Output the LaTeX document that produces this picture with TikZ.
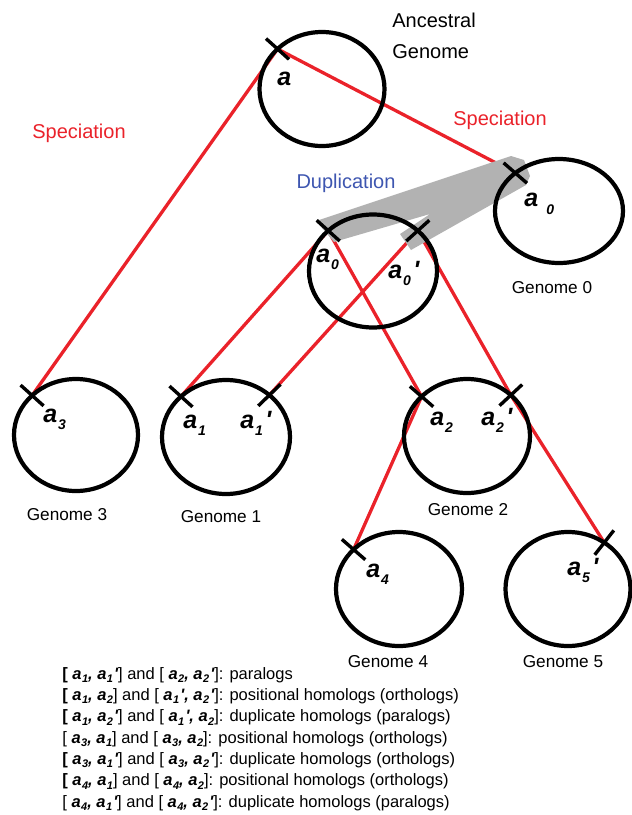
\documentclass[tikz,border=0pt]{standalone}
\usepackage{fontspec}
\setmainfont{Liberation Sans}[Ligatures=TeXOff]
\usetikzlibrary{shapes.geometric,calc}
\definecolor{spred}{RGB}{234,34,42}
\definecolor{dupblue}{RGB}{62,86,176}
\definecolor{bandgrey}{RGB}{178,178,178}
\pgfdeclarelayer{bg}
\pgfsetlayers{bg,main}
\newcommand{\bfit}{\bfseries\itshape}
% big gene labels inside circles
\newcommand{\ga}[1]{{\fontsize{12.5}{12.5}\selectfont\bfit a\kern0.4pt\raisebox{-3.5pt}{\fontsize{7}{7}\selectfont #1}}}
\newcommand{\gap}[1]{{\fontsize{12.5}{12.5}\selectfont\bfit a\kern0.4pt\raisebox{-3.5pt}{\fontsize{7}{7}\selectfont #1}\kern1.2pt'}}
% small gene labels in the list
\newcommand{\la}[1]{{\bfit a\kern0.2pt\raisebox{-1.8pt}{\fontsize{5.5}{5.5}\selectfont #1}}}
\newcommand{\lap}[1]{{\bfit a\kern0.2pt\raisebox{-1.8pt}{\fontsize{5.5}{5.5}\selectfont #1}\kern0.6pt'}}
\newcommand{\lc}{{\bfit ,}}
\newcommand{\lb}{{\bfseries [}}
\newcommand{\gtick}[2]{\draw[tick] ($(#1)!7.75pt!(#2.center)$) -- ($(#1)!-7.75pt!(#2.center)$);}
\begin{document}
\begin{tikzpicture}[x=0.5pt,y=-0.5pt,
  genome/.style={ellipse,draw,line width=2.1pt,inner sep=0pt,outer sep=0pt},
  tick/.style={line width=1.7pt,black},
  spec/.style={draw=spred,line width=1.65pt},
  lbl/.style={inner sep=0pt,anchor=base west},
  gname/.style={inner sep=0pt,font=\fontsize{8.6}{10}\selectfont},
  big/.style={inner sep=0pt,font=\fontsize{10}{12}\selectfont},
  listline/.style={inner sep=0pt,anchor=base west,font=\fontsize{8.25}{10}\selectfont}]
\useasboundingbox (0,0) rectangle (632,815);

% genomes
\node[genome,minimum width=62.5pt,minimum height=57pt] (anc) at (322,89) {};
\node[genome,minimum width=64pt,minimum height=52pt] (g0) at (559,211) {};
\node[genome,minimum width=64pt,minimum height=56.5pt] (mid) at (373,271) {};
\node[genome,minimum width=62pt,minimum height=56pt] (g3) at (76,435) {};
\node[genome,minimum width=64pt,minimum height=57pt] (g1) at (226,437) {};
\node[genome,minimum width=63pt,minimum height=57pt] (g2) at (467,436) {};
\node[genome,minimum width=63pt,minimum height=57pt] (g4) at (399,589) {};
\node[genome,minimum width=62.5pt,minimum height=57pt] (g5) at (568,589) {};

% tick positions
\coordinate (tA) at (anc.138);
\coordinate (t0) at (g0.139);
\coordinate (m0) at (mid.138);
\coordinate (m0p) at (mid.42);
\coordinate (t3) at (g3.138);
\coordinate (t1) at (g1.138);
\coordinate (t1p) at (g1.44);
\coordinate (t2) at (g2.139);
\coordinate (t2p) at (g2.43);
\coordinate (t4) at (g4.139);
\coordinate (t5) at (g5.52);

\begin{pgfonlayer}{bg}
  \draw[spec] (t3) -- (tA) -- (t0);
  \draw[spec] (t1) -- (m0) -- (t2);
  \draw[spec] (t1p) -- (m0p) -- (t2p) -- (t5);
  \draw[spec] (t2) -- (t4);
  \fill[bandgrey] (316,221) -- (511,156) -- (524,160) -- (530,176) -- (526,185)
     -- (411,250) -- (400,234) -- (430,214) -- (334,242) -- cycle;
\end{pgfonlayer}

% ticks
\gtick{tA}{anc}
\gtick{t0}{g0}
\gtick{m0}{mid}
\gtick{m0p}{mid}
\gtick{t3}{g3}
\gtick{t1}{g1}
\gtick{t1p}{g1}
\gtick{t2}{g2}
\gtick{t2p}{g2}
\gtick{t4}{g4}
\gtick{t5}{g5}

% gene labels
\node[lbl] (la) at (277,85) {{\fontsize{12.5}{12.5}\selectfont\bfit a}};
\node[lbl] (la0) at (524,206) {{\fontsize{12.5}{12.5}\selectfont\bfit a\kern4pt\raisebox{-4pt}{\fontsize{7}{7}\selectfont 0}}};
\node[lbl] (lm0) at (316,262) {\ga{0}};
\node[lbl] (lm0p) at (388,278) {\gap{0}};
\node[lbl] (la3) at (43,422) {\ga{3}};
\node[lbl] (la1) at (183,428) {\ga{1}};
\node[lbl] (la1p) at (240,428) {\gap{1}};
\node[lbl] (la2) at (430,425) {\ga{2}};
\node[lbl] (la2p) at (481,425) {\gap{2}};
\node[lbl] (la4) at (366,577) {\ga{4}};
\node[lbl] (la5p) at (567,575) {\gap{5}};

% genome names
\node[gname] (n0) at (552,288) {Genome 0};
\node[gname] (n3) at (67,515) {Genome 3};
\node[gname] (n1) at (221,517) {Genome 1};
\node[gname] (n2) at (468,510) {Genome 2};
\node[gname] (n4) at (388,662) {Genome 4};
\node[gname] (n5) at (563,662) {Genome 5};

% titles
\node[big,anchor=west] (anc1) at (392,20) {Ancestral};
\node[big,anchor=west] (anc2) at (392,52) {Genome};
\node[big,text=spred] (sp1) at (79,133) {Speciation};
\node[big,text=spred] (sp2) at (500,120) {Speciation};
\node[big,text=dupblue] (dup) at (346,183) {Duplication};

% list
\node[listline] (l1) at (62,679) {\lb\ \la{1}\lc\ \lap{1}] and [ \la{2}\lc\ \lap{2}]: paralogs};
\node[listline] (l2) at (62,700.3) {\lb\ \la{1}\lc\ \la{2}] and [ \lap{1}\lc\ \lap{2}]: positional homologs (orthologs)};
\node[listline] (l3) at (62,721.7) {\lb\ \la{1}\lc\ \lap{2}] and [ \lap{1}\lc\ \la{2}]: duplicate homologs (paralogs)};
\node[listline] (l4) at (62,743) {[ \la{3}\lc\ \la{1}] and [ \la{3}\lc\ \la{2}]: positional homologs (orthologs)};
\node[listline] (l5) at (62,764.3) {\lb\ \la{3}\lc\ \lap{1}] and [ \la{3}\lc\ \lap{2}]: duplicate homologs (orthologs)};
\node[listline] (l6) at (62,785.7) {\lb\ \la{4}\lc\ \la{1}] and [ \la{4}\lc\ \la{2}]: positional homologs (orthologs)};
\node[listline] (l7) at (62,807) {[ \la{4}\lc\ \lap{1}] and [ \la{4}\lc\ \lap{2}]: duplicate homologs (paralogs)};
\end{tikzpicture}
\end{document}
